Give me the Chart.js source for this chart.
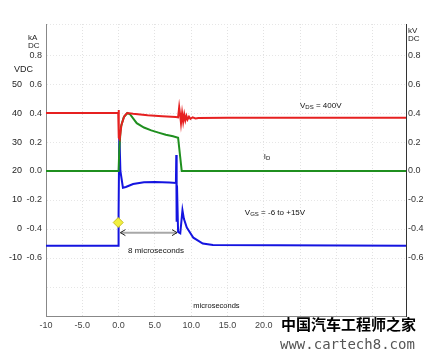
<!DOCTYPE html>
<html><head><meta charset="utf-8">
<script src="https://cdn.jsdelivr.net/npm/chart.js@4/dist/chart.umd.min.js"></script>
<style>html,body{margin:0;padding:0;background:#fff;}canvas{display:block;}</style>
</head><body>
<canvas id="c" width="426" height="361"></canvas>
<script>
// time axis (microseconds)
const xTicks = [-10, -5, 0, 5, 10, 15, 20];
// VDS trace (kV)
const redT = [-10, -0.05, 0, 0.05, 0.15, 0.4, 0.8, 1.2, 2, 4, 6, 7.9, 8.2, 8.35, 8.5, 8.6, 8.75, 8.9, 9.05, 9.2, 9.35, 9.5, 9.7, 9.9, 10.2, 10.6, 11, 15, 20, 30, 39.6];
const redV = [0.40, 0.40, 0.42, 0.23, 0.22, 0.32, 0.38, 0.40, 0.395, 0.385, 0.378, 0.372, 0.37, 0.44, 0.38, 0.33, 0.40, 0.34, 0.39, 0.35, 0.38, 0.355, 0.375, 0.36, 0.37, 0.362, 0.366, 0.367, 0.368, 0.368, 0.368];
// ID trace (kA)
const greenT = [-10, 0, 0.1, 0.3, 0.7, 1.2, 1.6, 2.5, 3.5, 4.5, 5.5, 6.5, 7.5, 8.2, 8.7, 9, 39.6];
const greenV = [0, 0, 0.15, 0.30, 0.37, 0.40, 0.39, 0.33, 0.30, 0.28, 0.265, 0.25, 0.24, 0.23, 0.0, 0.0, 0.0];
// VGS trace (plotted on kA/kV grid)
const blueT = [-10, -0.05, 0, 0.1, 0.25, 0.6, 1.0, 2, 3.5, 5, 7, 7.9, 7.95, 8.0, 8.05, 8.2, 8.5, 8.8, 9.0, 9.4, 10.3, 11.6, 13, 39.6];
const blueV = [-0.515, -0.515, -0.3, 0.28, 0.0, -0.115, -0.11, -0.09, -0.078, -0.075, -0.08, -0.083, 0.11, -0.35, -0.10, -0.42, -0.43, -0.27, -0.33, -0.39, -0.46, -0.50, -0.51, -0.515];
// markers / annotation
const markerT = [-0.05];
const markerV = [-0.355];
const arrowT = [0.25, 8.05];
const arrowV = -0.425;
// left/right tick labels
const kaTicks = [0.8, 0.6, 0.4, 0.2, 0.0, -0.2, -0.4, -0.6];
const vdcTicks = [50, 40, 30, 20, 10, 0, -10];

const pts = (t, v) => t.map((x, i) => ({x: x, y: v[i]}));
const FONT = 'Liberation Sans, Arial, sans-serif';

function subText(ctx, x, y, parts) {
  let cx = x;
  for (const [s, sub] of parts) {
    ctx.font = (sub ? '6px ' : '8px ') + FONT;
    ctx.fillText(s, cx, y + (sub ? 1.5 : 0));
    cx += ctx.measureText(s).width;
  }
}

const overlay = {
  id: 'overlay',
  afterDatasetsDraw(chart) {
    const ctx = chart.ctx, xs = chart.scales.x, ys = chart.scales.y;
    ctx.save();
    const x1 = xs.getPixelForValue(arrowT[0]), x2 = xs.getPixelForValue(arrowT[1]);
    const ay = ys.getPixelForValue(arrowV);
    ctx.strokeStyle = '#a8a8a8'; ctx.lineWidth = 2;
    ctx.beginPath(); ctx.moveTo(x1, ay); ctx.lineTo(x2, ay); ctx.stroke();
    ctx.strokeStyle = '#222'; ctx.lineWidth = 1;
    ctx.beginPath();
    ctx.moveTo(x1 + 5, ay - 3); ctx.lineTo(x1, ay); ctx.lineTo(x1 + 5, ay + 3);
    ctx.moveTo(x2 - 5, ay - 3); ctx.lineTo(x2, ay); ctx.lineTo(x2 - 5, ay + 3);
    ctx.stroke();
    ctx.fillStyle = '#111'; ctx.textBaseline = 'middle'; ctx.textAlign = 'left';
    ctx.font = '8px ' + FONT;
    ctx.fillText('8 microseconds', xs.getPixelForValue(1.3), ys.getPixelForValue(-0.55));
    ctx.font = '7.5px ' + FONT;
    ctx.fillText('microseconds', xs.getPixelForValue(10.3), ys.getPixelForValue(-0.93));
    subText(ctx, xs.getPixelForValue(25.0), ys.getPixelForValue(0.45), [['V', false], ['DS', true], [' = 400V', false]]);
    subText(ctx, xs.getPixelForValue(20.0), ys.getPixelForValue(0.10), [['I', false], ['D', true]]);
    subText(ctx, xs.getPixelForValue(17.4), ys.getPixelForValue(-0.29), [['V', false], ['GS', true], [' = -6 to +15V', false]]);
    ctx.restore();
  },
  afterDraw(chart) {
    const ctx = chart.ctx;
    ctx.save();
    ctx.fillStyle = '#222'; ctx.textBaseline = 'middle';
    ctx.font = '8px ' + FONT; ctx.textAlign = 'left';
    ctx.fillText('kA', 28, 38); ctx.fillText('DC', 28, 46);
    ctx.fillText('kV', 408, 31); ctx.fillText('DC', 408, 39);
    ctx.font = '9px ' + FONT;
    ctx.fillText('VDC', 14, 70);
    ctx.fillStyle = '#000';
    ctx.font = 'bold 15px "Noto Sans CJK SC"';
    ctx.fillText('中国汽车工程师之家', 281, 324);
    ctx.fillStyle = '#555';
    ctx.font = '14px "DejaVu Sans Mono", monospace';
    ctx.fillText('www.cartech8.com', 280, 345);
    ctx.restore();
  }
};

const fmt1 = v => (Math.round(v * 10) / 10).toFixed(1);
const inList = (list, v) => list.some(a => Math.abs(a - v) < 1e-6);

new Chart(document.getElementById('c'), {
  type: 'line',
  data: {
    datasets: [
      {data: pts(markerT, markerV), showLine: false, pointStyle: 'rectRot', pointRadius: 5, pointBackgroundColor: '#f2f040', pointBorderColor: '#c8c020', pointBorderWidth: 1},
      {data: pts(redT, redV), borderColor: '#e62020', borderWidth: 2},
      {data: pts(greenT, greenV), borderColor: '#1f8f1f', borderWidth: 2},
      {data: pts(blueT, blueV), borderColor: '#1414e0', borderWidth: 2}
    ]
  },
  options: {
    responsive: false, animation: false, devicePixelRatio: 1,
    parsing: false,
    elements: {point: {radius: 0}, line: {tension: 0}},
    layout: {padding: {top: 24, right: 0, left: 0, bottom: 0}},
    plugins: {legend: {display: false}, tooltip: {enabled: false}},
    scales: {
      x: {
        type: 'linear', position: 'bottom', min: -10, max: 39.6,
        ticks: {stepSize: 5, color: '#444', font: {size: 9, family: FONT}, padding: 4, maxRotation: 0,
          callback: v => inList(xTicks, v) ? (v === -10 ? '-10' : fmt1(v)) : ''},
        grid: {color: '#e2e2e2', drawTicks: false},
        border: {color: '#888', dash: [1, 2]},
        afterFit: s => { s.height = 45; }
      },
      y: {
        position: 'left', min: -1, max: 1.014,
        ticks: {stepSize: 0.2, color: '#333', font: {size: 9, family: FONT}, padding: 4,
          callback: v => inList(kaTicks, v) ? fmt1(v) : ''},
        grid: {color: '#e6e6e6', drawTicks: false},
        border: {color: '#888', dash: [1, 2]},
        afterFit: s => { s.width = 24; }
      },
      y2: {
        position: 'left', min: -30, max: 70.7,
        ticks: {stepSize: 10, color: '#222', font: {size: 9, family: FONT}, padding: 0,
          callback: v => inList(vdcTicks, v) ? String(Math.round(v)) : ''},
        grid: {display: false, drawTicks: false},
        border: {display: false},
        afterFit: s => { s.width = 22; }
      },
      yR: {
        position: 'right', min: -1, max: 1.014,
        ticks: {stepSize: 0.2, color: '#333', font: {size: 9, family: FONT}, padding: 2,
          callback: v => inList(kaTicks, v) ? fmt1(v) : ''},
        grid: {display: false, drawTicks: false},
        border: {color: '#333'},
        afterFit: s => { s.width = 20; }
      }
    }
  },
  plugins: [overlay]
});
</script>
</body></html>
